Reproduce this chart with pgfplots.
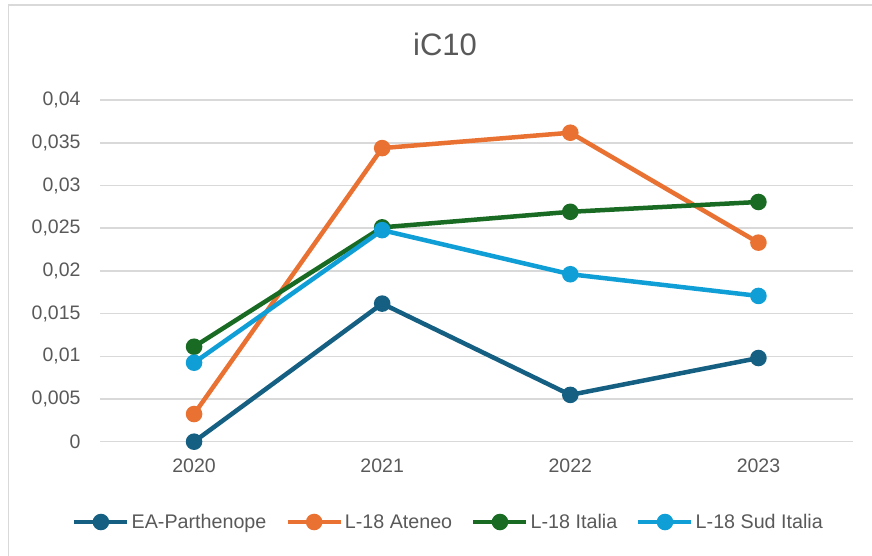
\documentclass[border=0pt]{standalone}
\usepackage{pgfplots}
\pgfplotsset{compat=1.18}
\usepackage{fontspec}
\setmainfont{Liberation Sans}
\definecolor{cdark}{HTML}{156082}
\definecolor{corange}{HTML}{E97132}
\definecolor{cgreen}{HTML}{196B24}
\definecolor{clight}{HTML}{0F9ED5}
\definecolor{tgray}{HTML}{595959}
\definecolor{ggray}{HTML}{D9D9D9}
\begin{document}
\begin{tikzpicture}
\path[use as bounding box] (0,0) rectangle (872bp,556bp);
\draw[ggray, line width=1.5bp] (8.5bp,0) -- (8.5bp,551bp) -- (872bp,551bp);
\node[font=\fontsize{31bp}{36bp}\selectfont, text=tgray] at (445bp,511.5bp) {iC10};
\begin{axis}[
  at={(100bp,114.3bp)}, anchor=south west,
  width=752.5bp, height=341.6bp, scale only axis,
  xmin=-0.5, xmax=3.5, ymin=0, ymax=0.04,
  scaled y ticks=false,
  xtick={0,1,2,3}, xticklabels={2020,2021,2022,2023},
  ytick={0,0.005,0.01,0.015,0.02,0.025,0.03,0.035,0.04},
  yticklabels={0,{0,005},{0,01},{0,015},{0,02},{0,025},{0,03},{0,035},{0,04}},
  ymajorgrids, grid style={ggray, line width=1.5bp},
  axis line style={draw=none}, major tick length=0pt,
  tick label style={font=\fontsize{19.5bp}{22bp}\selectfont, text=tgray},
  yticklabel style={anchor=east, xshift=-16bp},
  xticklabel style={anchor=north, yshift=-14bp},
  legend columns=4,
  legend style={at={(0.4631,-0.2351)}, anchor=center, draw=none, fill=none,
    font=\fontsize{19.7bp}{22bp}\selectfont, text=tgray,
    nodes={inner xsep=2bp},
    /tikz/every even column/.append style={column sep=17bp}},
  legend image code/.code={\draw[mark repeat=2,mark phase=2,#1] plot coordinates {(0bp,0bp) (26.5bp,0bp) (53bp,0bp)};},
  every axis plot/.append style={line width=4.5bp, mark=*, mark size=6bp},
]
\addplot[cdark, mark options={fill=cdark, draw=cdark}] coordinates {(0,0) (1,0.01617) (2,0.00548) (3,0.0098)};
\addlegendentry{EA-Parthenope}
\addplot[corange, mark options={fill=corange, draw=corange}] coordinates {(0,0.00324) (1,0.03438) (2,0.03618) (3,0.02331)};
\addlegendentry{L-18 Ateneo}
\addplot[cgreen, mark options={fill=cgreen, draw=cgreen}] coordinates {(0,0.01112) (1,0.0251) (2,0.02692) (3,0.02807)};
\addlegendentry{L-18 Italia}
\addplot[clight, mark options={fill=clight, draw=clight}] coordinates {(0,0.00925) (1,0.02477) (2,0.01961) (3,0.01707)};
\addlegendentry{L-18 Sud Italia}
\end{axis}
\end{tikzpicture}
\end{document}
